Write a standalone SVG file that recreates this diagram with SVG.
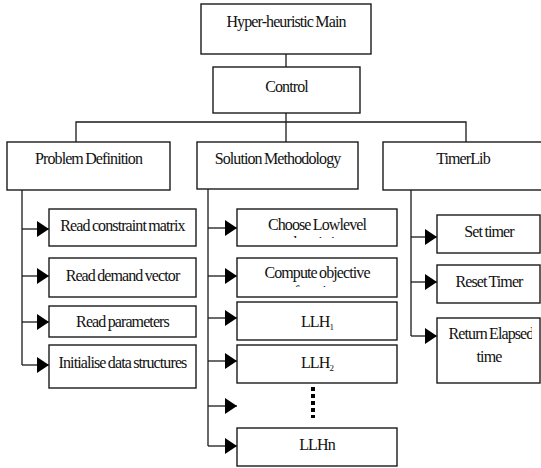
<svg xmlns="http://www.w3.org/2000/svg" width="541" height="468" viewBox="0 0 541 468">
<style>
.box{fill:#fff;stroke:#1a1a1a;stroke-width:1.4}
.t{font-family:"Liberation Serif","Times New Roman","DejaVu Serif",serif;font-size:16px;letter-spacing:-0.9px;word-spacing:-0.8px;fill:#111;text-anchor:middle}
.c{fill:none;stroke:#1a1a1a;stroke-width:1.3}
.dots{fill:none;stroke:#000;stroke-width:4;stroke-dasharray:4 3}
</style>
<defs>
<marker id="arr" viewBox="0 0 12 16" refX="12" refY="8" markerWidth="12" markerHeight="16" markerUnits="userSpaceOnUse" orient="auto">
<path d="M0,0 L12,8 L0,16 Z" fill="#000"/>
</marker>
<clipPath id="clipChoose"><rect x="237" y="209" width="160" height="29"/></clipPath>
<clipPath id="clipCompute"><rect x="237" y="258" width="160" height="29"/></clipPath>
<clipPath id="clipReturn"><rect x="437" y="318" width="95" height="65"/></clipPath>
</defs>
<rect width="541" height="468" fill="#fff"/>

<g id="connectors">
<path class="c" d="M286,54 V67"/>
<path class="c" d="M286,113 V142"/>
<path class="c" d="M76,142 V122 H466 V142"/>
<path class="c" d="M22,190 V365"/>
<path class="c" d="M22,229 H49" marker-end="url(#arr)"/>
<path class="c" d="M22,276 H49" marker-end="url(#arr)"/>
<path class="c" d="M22,322 H49" marker-end="url(#arr)"/>
<path class="c" d="M22,365 H49" marker-end="url(#arr)"/>
<path class="c" d="M208,189 V446"/>
<path class="c" d="M208,228 H237" marker-end="url(#arr)"/>
<path class="c" d="M208,276 H237" marker-end="url(#arr)"/>
<path class="c" d="M208,318 H237" marker-end="url(#arr)"/>
<path class="c" d="M208,361 H237" marker-end="url(#arr)"/>
<path class="c" d="M208,406 H237" marker-end="url(#arr)"/>
<path class="c" d="M208,446 H237" marker-end="url(#arr)"/>
<path class="c" d="M411,190 V336"/>
<path class="c" d="M411,237 H437" marker-end="url(#arr)"/>
<path class="c" d="M411,282 H437" marker-end="url(#arr)"/>
<path class="c" d="M411,336 H437" marker-end="url(#arr)"/>
<path class="dots" d="M313,387 V418"/>
</g>

<g id="main"><rect class="box" x="201" y="4" width="170" height="50"/><text class="t" x="286" y="27">Hyper-heuristic Main</text></g>
<g id="control"><rect class="box" x="213" y="67" width="147" height="46"/><text class="t" x="286.5" y="92">Control</text></g>

<g id="problem"><rect class="box" x="7" y="142" width="163" height="48"/><text class="t" x="88.5" y="164">Problem Definition</text></g>
<g id="solution"><rect class="box" x="197" y="142" width="161" height="47"/><text class="t" x="277.5" y="164">Solution Methodology</text></g>
<g id="timerlib"><rect class="box" x="383" y="142" width="162" height="48"/><text class="t" x="463" y="164">TimerLib</text></g>

<g id="read-matrix"><rect class="box" x="49" y="209" width="147" height="37"/><text class="t" x="122.5" y="231">Read constraint matrix</text></g>
<g id="read-demand"><rect class="box" x="49" y="258" width="147" height="39"/><text class="t" x="122.5" y="281">Read demand vector</text></g>
<g id="read-params"><rect class="box" x="49" y="306" width="147" height="31"/><text class="t" x="122.5" y="327">Read parameters</text></g>
<g id="init-data"><rect class="box" x="49" y="345" width="147" height="43"/><text class="t" x="122.5" y="368">Initialise data structures</text></g>

<g id="choose-llh"><rect class="box" x="237" y="209" width="160" height="37"/><g clip-path="url(#clipChoose)"><text class="t" x="317" y="230">Choose Lowlevel</text><text class="t" x="317" y="248">heuristic</text></g></g>
<g id="compute-obj"><rect class="box" x="237" y="258" width="160" height="39"/><g clip-path="url(#clipCompute)"><text class="t" x="317" y="278">Compute objective</text><text class="t" x="317" y="297">function</text></g></g>
<g id="llh1"><rect class="box" x="237" y="302" width="160" height="38"/><text class="t" x="317" y="327">LLH<tspan font-size="9" dy="3">1</tspan></text></g>
<g id="llh2"><rect class="box" x="237" y="345" width="160" height="38"/><text class="t" x="317" y="368">LLH<tspan font-size="9" dy="3">2</tspan></text></g>
<g id="llhn"><rect class="box" x="237" y="428" width="160" height="38"/><text class="t" x="317" y="450">LLHn</text></g>

<g id="set-timer"><rect class="box" x="437" y="215" width="103" height="38"/><text class="t" x="489" y="237">Set timer</text></g>
<g id="reset-timer"><rect class="box" x="437" y="265" width="103" height="38"/><text class="t" x="489" y="287">Reset Timer</text></g>
<g id="return-elapsed"><rect class="box" x="437" y="318" width="103" height="65"/><g clip-path="url(#clipReturn)"><text class="t" x="491" y="339">Return Elapsed</text></g><text class="t" x="489" y="362">time</text></g>
</svg>
